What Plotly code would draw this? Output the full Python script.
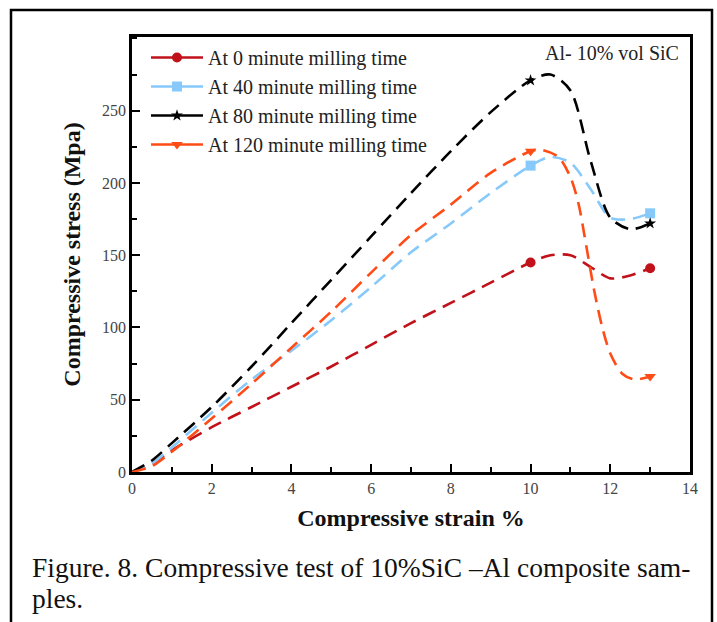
import plotly.graph_objects as go

# ---- data ----
strain = [0, 0.5, 1, 2, 3, 4, 5, 6, 7, 8, 9, 10, 10.5, 11, 11.5, 12, 12.5, 13]
stress_0 = [0, 6, 15, 31, 45, 59, 73, 88, 103, 117, 131, 145, 150, 150, 142, 134, 136, 141]
stress_40 = [0, 6, 17, 41, 64, 84, 105, 128, 152, 172, 193, 212, 218, 214, 196, 176, 175, 179]
stress_80 = [0, 8, 20, 45, 73, 103, 133, 163, 193, 222, 249, 271, 275, 264, 216, 176, 168, 172]
strain_120 = [0, 0.5, 1, 2, 3, 4, 5, 6, 7, 8, 9, 10, 10.25, 10.7, 11, 11.2, 11.4, 11.6, 11.8, 12, 12.3, 12.6, 13]
stress_120 = [0, 4, 14, 37, 61, 86, 111, 138, 164, 185, 207, 222, 223, 218, 204, 186, 156, 125, 100, 82, 68, 64, 66]

marker_strain = [10, 13]
marker_0 = [145, 141]
marker_40 = [212, 179]
marker_80 = [271, 172]
marker_120 = [222, 66]

x_ticks = [0, 2, 4, 6, 8, 10, 12, 14]
y_ticks = [0, 50, 100, 150, 200, 250]

names = ["At 0 minute milling time", "At 40 minute milling time",
         "At 80 minute milling time", "At 120 minute milling time"]
colors = ["#C1121C", "#86C9FA", "#000000", "#FF4B16"]
symbols = ["circle", "square", "star", "triangle-down"]
msizes = [10, 10, 9, 10]

curves = [(strain, stress_0), (strain, stress_40), (strain, stress_80), (strain_120, stress_120)]
marks = [marker_0, marker_40, marker_80, marker_120]

fig = go.Figure()
for (xs, ys), c in zip(curves, colors):
    fig.add_trace(go.Scatter(x=xs, y=ys, mode="lines", showlegend=False,
                             line=dict(color=c, width=2.6, dash="14px,8px", shape="spline", smoothing=0.8),
                             hoverinfo="skip"))
for m, c, s, ms in zip(marks, colors, symbols, msizes):
    fig.add_trace(go.Scatter(x=marker_strain, y=m, mode="markers", showlegend=False,
                             marker=dict(color=c, symbol=s, size=ms)))
for n, c, s, ms in zip(names, colors, symbols, msizes):
    fig.add_trace(go.Scatter(x=[None], y=[None], mode="lines+markers", name=n,
                             line=dict(color=c, width=2.6),
                             marker=dict(color=c, symbol=s, size=ms)))

L, R, T, B = 132, 690, 37, 472
W, H = 717, 622
pw, ph = R - L, B - T

def px(x):
    return (x - L) / pw

def py(y):
    return (B - y) / ph

serif = "Liberation Serif"
axis_common = dict(showline=True, linecolor="black", linewidth=2.5, mirror=True,
                   ticks="inside", tickcolor="black", tickwidth=2, ticklen=8,
                   showgrid=False, zeroline=False,
                   tickfont=dict(family=serif, size=16, color="#444"))

fig.update_layout(
    width=W, height=H,
    margin=dict(l=L, r=W - R, t=T, b=H - B),
    paper_bgcolor="white", plot_bgcolor="white",
    xaxis=dict(range=[0, 14], tickvals=x_ticks,
               minor=dict(ticks="inside", dtick=1, tick0=0, ticklen=5, tickwidth=2, tickcolor="black"),
               title=dict(text="<b>Compressive strain %</b>", font=dict(family=serif, size=24, color="#111"), standoff=14),
               **axis_common),
    yaxis=dict(range=[0, 301], tickvals=y_ticks,
               minor=dict(ticks="inside", dtick=25, tick0=0, ticklen=5, tickwidth=2, tickcolor="black"),
               title=dict(text="<b>Compressive stress (Mpa)</b>", font=dict(family=serif, size=24, color="#111"), standoff=15),
               **axis_common),
    legend=dict(x=px(146), y=py(38), xanchor="left", yanchor="top",
                bgcolor="rgba(0,0,0,0)", font=dict(family=serif, size=20, color="#222"),
                tracegroupgap=0, itemwidth=52),
    showlegend=True,
)

fig.add_annotation(text="Al- 10% vol SiC", xref="paper", yref="paper",
                   x=px(681), y=py(53), xanchor="right", yanchor="middle",
                   showarrow=False, font=dict(family=serif, size=20, color="#222"))

fig.add_annotation(text="Figure. 8. Compressive test of 10%SiC \u2013Al composite sam-",
                   xref="paper", yref="paper", x=px(30), y=py(567),
                   xanchor="left", yanchor="middle", showarrow=False,
                   font=dict(family=serif, size=27.5, color="#111"))
fig.add_annotation(text="ples.", xref="paper", yref="paper", x=px(30), y=py(598),
                   xanchor="left", yanchor="middle", showarrow=False,
                   font=dict(family=serif, size=27.5, color="#111"))

# outer frame (left, top, right)
fig.add_shape(type="path", xref="paper", yref="paper",
              path=f"M {px(11)} {py(640)} L {px(11)} {py(10)} L {px(712)} {py(10)} L {px(712)} {py(640)}",
              line=dict(color="black", width=2.5))

fig.write_html("out.html", config={"displayModeBar": False},
               post_script="document.body.style.margin='0px';document.body.style.overflow='hidden';")
